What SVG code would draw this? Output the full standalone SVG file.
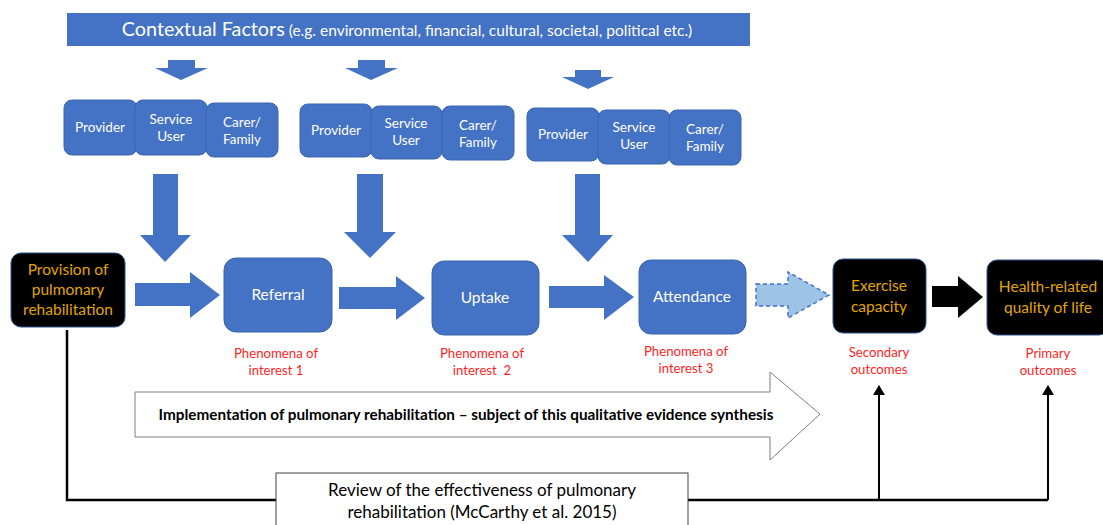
<svg xmlns="http://www.w3.org/2000/svg" width="1103" height="525" viewBox="0 0 1103 525">
<defs>
<style>
text{font-family:Lato,"Liberation Sans",sans-serif;text-anchor:middle}
.b{fill:#4472C4;stroke:#3B64AD;stroke-width:1}
.s{font-size:13.5px;fill:#fff}
.m{font-size:15.5px;fill:#fff}
.k{fill:#000;stroke:#2F528F;stroke-width:1}
.g{font-size:15.5px;fill:#E3A600}
.r{font-size:13.2px;fill:#FF1F1F}
.ba{fill:#4472C4}
</style>
<marker id="ah" markerWidth="10" markerHeight="12" refX="9" refY="6" orient="auto" markerUnits="userSpaceOnUse">
<path d="M0,0 L10,6 L0,12 Z" fill="#000"/>
</marker>
</defs>
<rect width="1103" height="525" fill="#fff"/>

<g id="banner">
<rect x="67" y="13" width="683" height="33" fill="#4472C4"/>
<text x="407" y="36" fill="#fff"><tspan font-size="19.8px">Contextual Factors</tspan><tspan font-size="15.5px"> (e.g. environmental, financial, cultural, societal, political etc.)</tspan></text>
</g>

<g id="connectors">
<polygon class="ba" points="168,60 195,60 195,68 208,68 181,80 155,68 168,68"/>
<polygon class="ba" points="358,60 385,60 385,68 398,68 371,80 345,68 358,68"/>
<polygon class="ba" points="575,70 601,70 601,77 614,77 588,89 562,77 575,77"/>
<polygon class="ba" points="153,174 178,174 178,235 191,235 165,262 140,235 153,235"/>
<polygon class="ba" points="357,174 383,174 383,232 396,232 370,258 344,232 357,232"/>
<polygon class="ba" points="575,174 600,174 600,235 613,235 588,262 562,235 575,235"/>
<polygon class="ba" points="135,283 190,283 190,272 220,295 190,318 190,306 135,306"/>
<polygon class="ba" points="339,287 396,287 396,276 425,298 396,320 396,309 339,309"/>
<polygon class="ba" points="549,286 604,286 604,275 634,297 604,320 604,308 549,308"/>
<polygon points="756,284 788,284 788,272 829,295 788,318 788,306 756,306" fill="#9DC3E6" stroke="#4472C4" stroke-width="1.5" stroke-dasharray="4,3"/>
<polygon points="932,286 958,286 958,276 983,297 958,318 958,307 932,307" fill="#000"/>
<polyline points="67,330 67,500 879,500" fill="none" stroke="#000" stroke-width="2.5"/>
<line x1="879" y1="500" x2="1048" y2="500" stroke="#000" stroke-width="2.5"/>
<line x1="879" y1="500" x2="879" y2="386" stroke="#000" stroke-width="2" marker-end="url(#ah)"/>
<line x1="1048" y1="500" x2="1048" y2="386" stroke="#000" stroke-width="2" marker-end="url(#ah)"/>
</g>

<g id="implementation">
<polygon points="135,392 770,392 770,372 820,414 770,460 770,437 135,437" fill="#fff" stroke="#7F7F7F" stroke-width="1"/>
<text x="466" y="420" font-size="15.3px" font-weight="bold" fill="#000">Implementation of pulmonary rehabilitation – subject of this qualitative evidence synthesis</text>
</g>

<g id="group1">
<rect class="b" x="64" y="100" width="73" height="55" rx="8"/>
<text class="s" x="100" y="132">Provider</text>
<rect class="b" x="135" y="100" width="72" height="55" rx="8"/>
<text class="s" x="171" y="124">Service</text><text class="s" x="171" y="141">User</text>
<rect class="b" x="206" y="103" width="72" height="54" rx="8"/>
<text class="s" x="242" y="127">Carer/</text><text class="s" x="242" y="144">Family</text>
</g>
<g id="group2">
<rect class="b" x="300" y="104" width="72" height="53" rx="8"/>
<text class="s" x="336" y="135">Provider</text>
<rect class="b" x="371" y="106" width="71" height="53" rx="8"/>
<text class="s" x="406" y="128">Service</text><text class="s" x="406" y="145">User</text>
<rect class="b" x="442" y="106" width="72" height="54" rx="8"/>
<text class="s" x="478" y="130">Carer/</text><text class="s" x="478" y="147">Family</text>
</g>
<g id="group3">
<rect class="b" x="527" y="108" width="72" height="53" rx="8"/>
<text class="s" x="563" y="139">Provider</text>
<rect class="b" x="598" y="110" width="72" height="54" rx="8"/>
<text class="s" x="634" y="132">Service</text><text class="s" x="634" y="149">User</text>
<rect class="b" x="669" y="110" width="72" height="55" rx="8"/>
<text class="s" x="705" y="134">Carer/</text><text class="s" x="705" y="151">Family</text>
</g>

<g id="provision">
<rect class="k" x="11" y="253" width="114" height="74" rx="10"/>
<text class="g" x="68" y="275">Provision of</text>
<text class="g" x="68" y="295">pulmonary</text>
<text class="g" x="68" y="315">rehabilitation</text>
</g>
<g id="referral">
<rect class="b" x="224" y="258" width="108" height="74" rx="12"/>
<text class="m" x="278" y="300">Referral</text>
<text class="r" x="276" y="358">Phenomena of</text>
<text class="r" x="276" y="375">interest 1</text>
</g>
<g id="uptake">
<rect class="b" x="432" y="261" width="107" height="74" rx="12"/>
<text class="m" x="485" y="303">Uptake</text>
<text class="r" x="482" y="358">Phenomena of</text>
<text class="r" x="482" y="375" xml:space="preserve">interest  2</text>
</g>
<g id="attendance">
<rect class="b" x="639" y="260" width="107" height="74" rx="12"/>
<text class="m" x="692" y="302">Attendance</text>
<text class="r" x="686" y="356">Phenomena of</text>
<text class="r" x="686" y="373">interest 3</text>
</g>
<g id="exercise">
<rect class="k" x="833" y="259" width="93" height="74" rx="10"/>
<text class="g" x="879" y="291">Exercise</text>
<text class="g" x="879" y="312">capacity</text>
<text class="r" x="879" y="357">Secondary</text>
<text class="r" x="879" y="374">outcomes</text>
</g>
<g id="hrqol">
<rect class="k" x="987" y="260" width="122" height="75" rx="10"/>
<text class="g" x="1048" y="292">Health-related</text>
<text class="g" x="1048" y="313">quality of life</text>
<text class="r" x="1048" y="358">Primary</text>
<text class="r" x="1048" y="375">outcomes</text>
</g>
<g id="review">
<rect x="276" y="473" width="412" height="60" fill="#fff" stroke="#404040" stroke-width="1"/>
<text x="482" y="496" font-size="17px" fill="#000">Review of the effectiveness of pulmonary</text>
<text x="482" y="518" font-size="17px" fill="#000">rehabilitation (McCarthy et al. 2015)</text>
</g>
</svg>
